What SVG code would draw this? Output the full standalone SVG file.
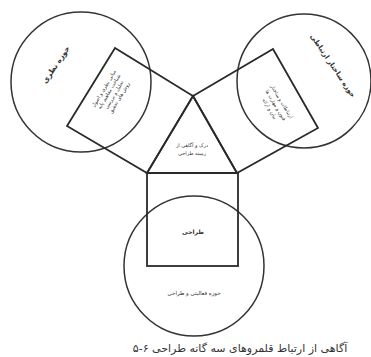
<svg xmlns="http://www.w3.org/2000/svg" width="371" height="357" viewBox="0 0 371 357">
<style>
.c{fill:none;stroke:#333;stroke-width:1.5}
.s{fill:none;stroke:#2a2a2a;stroke-width:1.8;stroke-linejoin:miter}
.t{font-family:"DejaVu Sans",sans-serif;fill:#333;text-anchor:middle}
</style>
<rect width="371" height="357" fill="#fff"/>
<g id="circle-left"><circle class="c" cx="81" cy="82" r="70"/>
<text class="t" font-size="7.5" font-weight="bold" transform="translate(58,66) rotate(-56)">حوزه نظری</text></g>
<g id="circle-right"><circle class="c" cx="304" cy="81" r="67"/>
<text class="t" font-size="7" font-weight="bold" transform="translate(331,67) rotate(56)">حوزه ساختار ارتباطی</text></g>
<g id="circle-bottom"><circle class="c" cx="194" cy="266" r="70"/>
<text class="t" font-size="5.5" x="194" y="295">حوزه فعالیتی و طراحی</text></g>
<g id="rect-left"><polygon class="s" points="147,173 193,96 115,48 67,126"/>
<g class="t" font-size="5" transform="translate(113,94) rotate(-59)">
<text x="0" y="-9">مبانی نظری و اصول</text>
<text x="0" y="-3">شناخت مفاهیم پایه</text>
<text x="0" y="3">تحلیل و بررسی</text>
<text x="0" y="9">روش های تحقیق</text></g></g>
<g id="rect-right"><polygon class="s" points="193,96 273,49 318,128 237,173"/>
<g class="t" font-size="5" transform="translate(276,105) rotate(59)">
<text x="0" y="-5">ارتباطات و ساختار</text>
<text x="0" y="2">فنون و مهارت ها</text>
<text x="0" y="9">بیان و ارائه</text></g></g>
<g id="triangle"><polygon class="s" points="193,96 237,173 147,173"/>
<text class="t" font-size="5" x="192" y="147">درک و آگاهی از</text>
<text class="t" font-size="5" x="192" y="155">زمینه طراحی</text></g>
<g id="square-bottom"><rect class="s" x="147" y="173" width="91" height="93"/>
<text class="t" font-size="6" font-weight="bold" x="193" y="234">طراحی</text></g>
<g id="connectors"></g>
<text class="t" font-size="11" x="240" y="352">۵-۶ آگاهی از ارتباط قلمروهای سه گانه طراحی</text>
</svg>
